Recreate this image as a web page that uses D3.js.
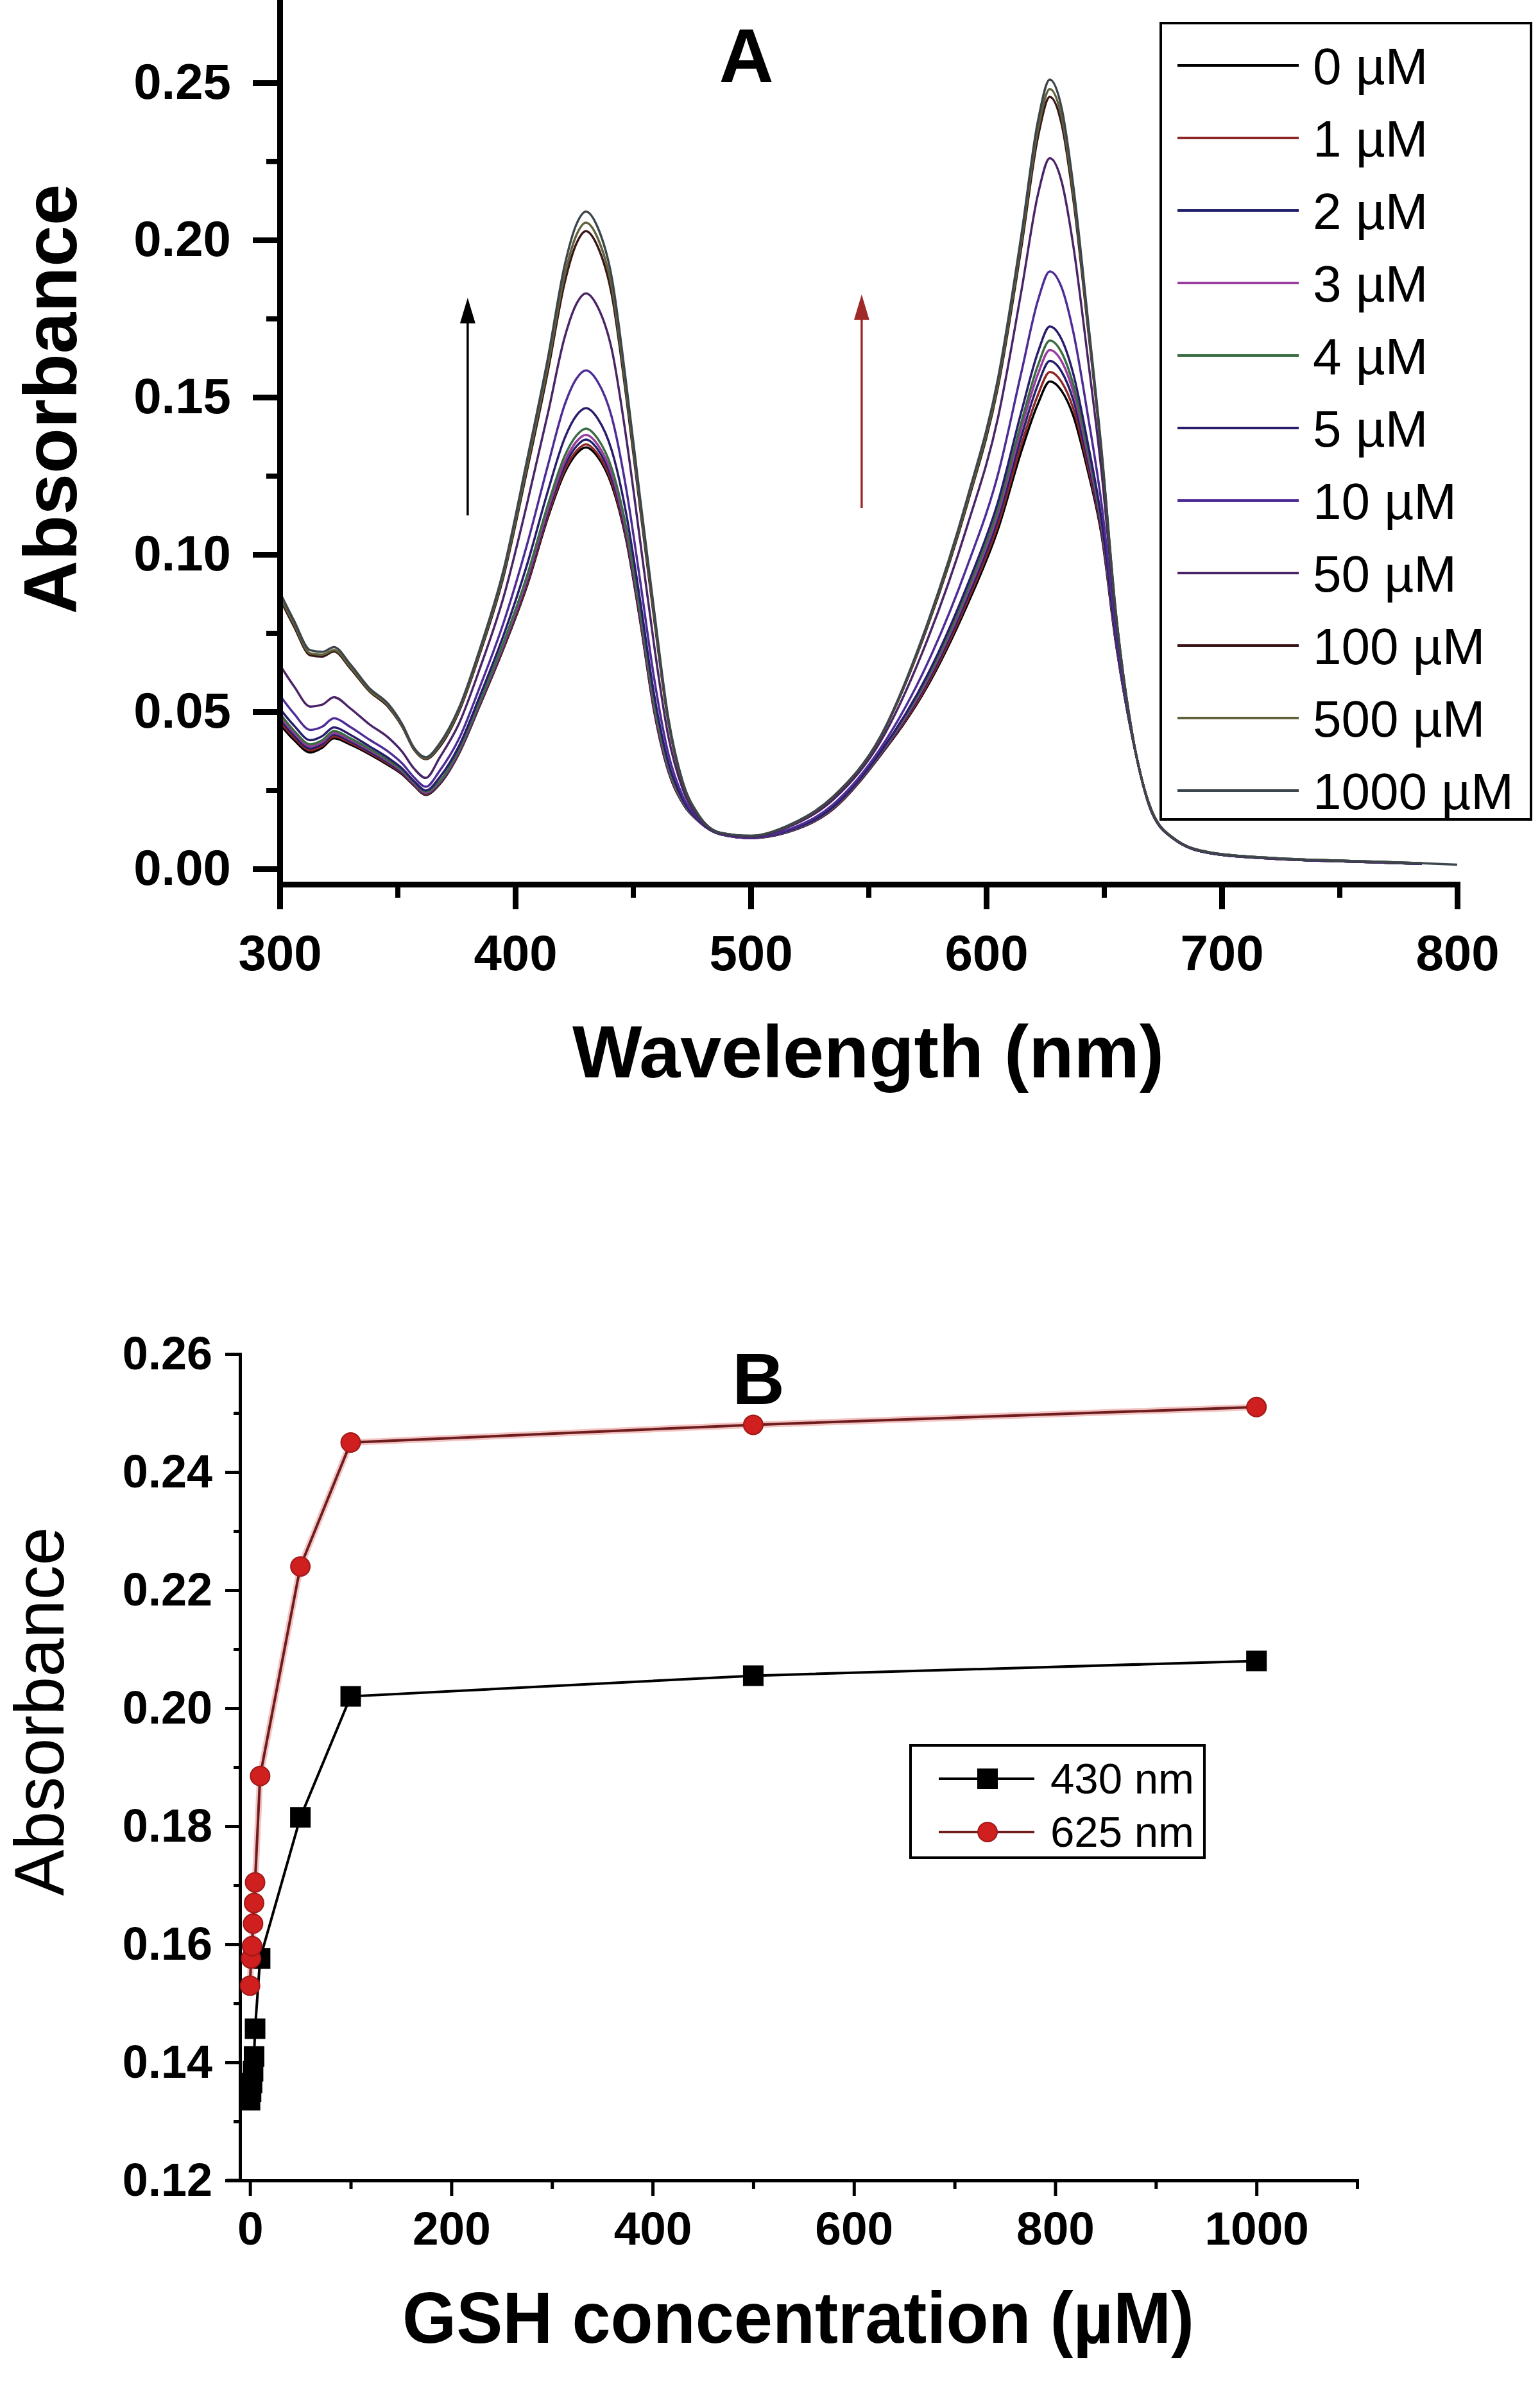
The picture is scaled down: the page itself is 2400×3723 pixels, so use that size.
<!DOCTYPE html>
<html>
<head>
<meta charset="utf-8">
<script src="https://cdn.jsdelivr.net/npm/d3@7"></script>
<style>
  body { margin: 0; background: #fff; }
  svg { display: block; }
</style>
</head>
<body>
<svg id="chart"></svg>
<script>
// ---- panel A : spectra ----
let wavelengths = [300, 306, 313, 318, 323, 330, 338, 346, 352, 357,
  362, 368, 376, 385, 395, 405, 414, 421, 426, 430,
  435, 441, 447, 453, 459, 465, 471, 478, 487, 500,
  515, 535, 555, 575, 592, 605, 615, 622, 627, 632,
  637, 643, 649, 655, 662, 670, 680, 695, 720, 760,
  785, 800]

let abs0 = [0.0460, 0.0410, 0.0370, 0.0385, 0.0415, 0.0395, 0.0365, 0.0330, 0.0300, 0.0265,
  0.0235, 0.0270, 0.0365, 0.0520, 0.0700, 0.0900, 0.1120, 0.1260, 0.1320, 0.1340,
  0.1310, 0.1220, 0.1050, 0.0790, 0.0500, 0.0310, 0.0210, 0.0150, 0.0110, 0.0098,
  0.0115, 0.0190, 0.0360, 0.0580, 0.0840, 0.1080, 0.1330, 0.1480, 0.1550, 0.1520,
  0.1440, 0.1270, 0.1060, 0.0720, 0.0420, 0.0185, 0.0093, 0.0050, 0.0033, 0.0022,
  0.0016, null]
let abs1 = [0.0468, 0.0418, 0.0377, 0.0391, 0.0421, 0.0400, 0.0369, 0.0334, 0.0303, 0.0267,
  0.0237, 0.0272, 0.0367, 0.0522, 0.0703, 0.0905, 0.1127, 0.1269, 0.1329, 0.1350,
  0.1319, 0.1229, 0.1057, 0.0795, 0.0504, 0.0312, 0.0211, 0.0150, 0.0110, 0.0098,
  0.0116, 0.0191, 0.0362, 0.0586, 0.0851, 0.1095, 0.1351, 0.1508, 0.1580, 0.1548,
  0.1463, 0.1285, 0.1068, 0.0723, 0.0420, 0.0185, 0.0093, 0.0050, 0.0033, 0.0022,
  0.0016, null]
let abs2 = [0.0477, 0.0425, 0.0383, 0.0397, 0.0427, 0.0405, 0.0373, 0.0338, 0.0306, 0.0270,
  0.0240, 0.0274, 0.0370, 0.0526, 0.0708, 0.0913, 0.1137, 0.1282, 0.1344, 0.1365,
  0.1334, 0.1242, 0.1067, 0.0803, 0.0511, 0.0316, 0.0212, 0.0151, 0.0110, 0.0098,
  0.0116, 0.0193, 0.0364, 0.0594, 0.0863, 0.1113, 0.1377, 0.1541, 0.1615, 0.1581,
  0.1490, 0.1303, 0.1078, 0.0727, 0.0421, 0.0186, 0.0093, 0.0050, 0.0033, 0.0022,
  0.0016, null]
let abs3 = [0.0485, 0.0433, 0.0390, 0.0403, 0.0432, 0.0410, 0.0378, 0.0342, 0.0310, 0.0272,
  0.0242, 0.0277, 0.0373, 0.0530, 0.0713, 0.0921, 0.1147, 0.1295, 0.1359, 0.1380,
  0.1349, 0.1255, 0.1077, 0.0811, 0.0517, 0.0319, 0.0214, 0.0151, 0.0110, 0.0098,
  0.0117, 0.0194, 0.0366, 0.0601, 0.0875, 0.1130, 0.1402, 0.1574, 0.1650, 0.1614,
  0.1516, 0.1321, 0.1088, 0.0730, 0.0422, 0.0186, 0.0094, 0.0050, 0.0033, 0.0022,
  0.0016, null]
let abs4 = [0.0494, 0.0440, 0.0396, 0.0409, 0.0438, 0.0415, 0.0382, 0.0346, 0.0313, 0.0275,
  0.0245, 0.0280, 0.0377, 0.0534, 0.0720, 0.0932, 0.1161, 0.1313, 0.1378, 0.1400,
  0.1368, 0.1273, 0.1090, 0.0821, 0.0526, 0.0324, 0.0216, 0.0152, 0.0110, 0.0099,
  0.0118, 0.0195, 0.0368, 0.0607, 0.0886, 0.1145, 0.1423, 0.1602, 0.1680, 0.1642,
  0.1539, 0.1336, 0.1096, 0.0734, 0.0422, 0.0186, 0.0094, 0.0050, 0.0033, 0.0022,
  0.0016, null]
let abs5 = [0.0510, 0.0456, 0.0409, 0.0422, 0.0450, 0.0426, 0.0390, 0.0353, 0.0319, 0.0279,
  0.0249, 0.0292, 0.0389, 0.0550, 0.0742, 0.0967, 0.1205, 0.1370, 0.1442, 0.1465,
  0.1432, 0.1330, 0.1134, 0.0855, 0.0553, 0.0338, 0.0222, 0.0153, 0.0111, 0.0099,
  0.0119, 0.0197, 0.0371, 0.0616, 0.0902, 0.1167, 0.1456, 0.1644, 0.1725, 0.1684,
  0.1573, 0.1359, 0.1109, 0.0738, 0.0423, 0.0187, 0.0094, 0.0050, 0.0033, 0.0022,
  0.0016, null]
let abs10 = [0.0552, 0.0494, 0.0442, 0.0452, 0.0479, 0.0451, 0.0411, 0.0373, 0.0335, 0.0291,
  0.0261, 0.0313, 0.0412, 0.0579, 0.0782, 0.1031, 0.1287, 0.1476, 0.1559, 0.1585,
  0.1549, 0.1436, 0.1214, 0.0918, 0.0605, 0.0366, 0.0233, 0.0157, 0.0112, 0.0100,
  0.0122, 0.0205, 0.0382, 0.0653, 0.0964, 0.1255, 0.1582, 0.1809, 0.1900, 0.1849,
  0.1706, 0.1449, 0.1159, 0.0757, 0.0424, 0.0187, 0.0094, 0.0051, 0.0034, 0.0023,
  0.0017, null]
let abs50 = [0.0649, 0.0581, 0.0516, 0.0522, 0.0546, 0.0510, 0.0460, 0.0418, 0.0372, 0.0319,
  0.0289, 0.0355, 0.0460, 0.0638, 0.0863, 0.1161, 0.1453, 0.1691, 0.1797, 0.1830,
  0.1787, 0.1651, 0.1377, 0.1045, 0.0709, 0.0421, 0.0256, 0.0163, 0.0113, 0.0103,
  0.0130, 0.0220, 0.0404, 0.0728, 0.1092, 0.1435, 0.1841, 0.2146, 0.2260, 0.2186,
  0.1980, 0.1633, 0.1260, 0.0794, 0.0428, 0.0189, 0.0095, 0.0051, 0.0034, 0.0023,
  0.0017, null]
let abs100 = [0.0859, 0.0771, 0.0679, 0.0675, 0.0691, 0.0637, 0.0565, 0.0515, 0.0452, 0.0379,
  0.0349, 0.0389, 0.0498, 0.0685, 0.0929, 0.1267, 0.1588, 0.1865, 0.1989, 0.2028,
  0.1979, 0.1825, 0.1509, 0.1148, 0.0793, 0.0466, 0.0274, 0.0168, 0.0115, 0.0104,
  0.0134, 0.0228, 0.0417, 0.0769, 0.1161, 0.1533, 0.1981, 0.2329, 0.2455, 0.2369,
  0.2128, 0.1732, 0.1315, 0.0814, 0.0429, 0.0190, 0.0095, 0.0052, 0.0035, 0.0024,
  0.0018, null]
let abs500 = [0.0867, 0.0779, 0.0685, 0.0681, 0.0696, 0.0642, 0.0569, 0.0519, 0.0455, 0.0381,
  0.0351, 0.0394, 0.0503, 0.0692, 0.0938, 0.1281, 0.1606, 0.1889, 0.2016, 0.2055,
  0.2006, 0.1849, 0.1527, 0.1162, 0.0805, 0.0472, 0.0277, 0.0169, 0.0115, 0.0105,
  0.0134, 0.0229, 0.0418, 0.0774, 0.1169, 0.1545, 0.1999, 0.2352, 0.2480, 0.2392,
  0.2147, 0.1745, 0.1322, 0.0817, 0.0430, 0.0190, 0.0095, 0.0052, 0.0035, 0.0024,
  0.0018, null]
let abs1000 = [0.0880, 0.0790, 0.0695, 0.0690, 0.0705, 0.0650, 0.0575, 0.0525, 0.0460, 0.0385,
  0.0355, 0.0400, 0.0510, 0.0700, 0.0950, 0.1300, 0.1630, 0.1920, 0.2050, 0.2090,
  0.2040, 0.1880, 0.1550, 0.1180, 0.0820, 0.0480, 0.0280, 0.0170, 0.0115, 0.0105,
  0.0135, 0.0230, 0.0420, 0.0780, 0.1180, 0.1560, 0.2020, 0.2380, 0.2510, 0.2420,
  0.2170, 0.1760, 0.1330, 0.0820, 0.0430, 0.0190, 0.0095, 0.0052, 0.0035, 0.0024,
  0.0018, 0.0013]

let concLabels = ['0 \u00b5M', '1 \u00b5M', '2 \u00b5M', '3 \u00b5M', '4 \u00b5M', '5 \u00b5M',
  '10 \u00b5M', '50 \u00b5M', '100 \u00b5M', '500 \u00b5M', '1000 \u00b5M']
let xTicksA = [300, 400, 500, 600, 700, 800]
let xMinorA = [350, 450, 550, 650, 750]
let yTicksA = [0, 0.05, 0.10, 0.15, 0.20, 0.25]
let yMinorA = [0.025, 0.075, 0.125, 0.175, 0.225]

// ---- panel B : absorbance vs GSH ----
let gshConc = [0, 1, 2, 3, 4, 5, 10, 50, 100, 500, 1000]
let abs430nm = [0.1336, 0.1350, 0.1365, 0.1385, 0.1410, 0.1457, 0.1576, 0.1815, 0.2020, 0.2055, 0.2080]
let abs625nm = [0.1530, 0.1576, 0.1597, 0.1635, 0.1670, 0.1705, 0.1885, 0.2240, 0.2450, 0.2480, 0.2510]
let seriesLabelsB = ['430 nm', '625 nm']
let xTicksB = [0, 200, 400, 600, 800, 1000]
let xMinorB = [100, 300, 500, 700, 900, 1100]
let yTicksB = [0.12, 0.14, 0.16, 0.18, 0.20, 0.22, 0.24, 0.26]
let yMinorB = [0.13, 0.15, 0.17, 0.19, 0.21, 0.23, 0.25]

let spectra = [abs0, abs1, abs2, abs3, abs4, abs5, abs10, abs50, abs100, abs500, abs1000]
let spectraColors = ['#000000', '#8e2626', '#22206a', '#9a3c9e', '#3a6e42', '#2a1c6c',
  '#4e2c96', '#4a2466', '#3a1618', '#62623a', '#3c464c']

let width = 2400
let height = 3723
let font = '"Liberation Sans", Arial, Helvetica, sans-serif'

let svg = d3.select('#chart').attr('width', width).attr('height', height)
svg.append('rect').attr('width', width).attr('height', height).attr('fill', '#fff')

let xA = d3.scaleLinear().domain([300, 800]).range([436, 2271])
let yA = d3.scaleLinear().domain([-0.0049, 0.2763]).range([1378, 0])
let xB = d3.scaleLinear().domain([-10, 1100]).range([374, 2115])
let yB = d3.scaleLinear().domain([0.12, 0.26]).range([3398, 2110])

let styleAxis = (g, sw, fs) => {
  g.select('.domain').attr('stroke', '#000').attr('stroke-width', sw).attr('stroke-linecap', 'square')
  g.selectAll('.tick line').attr('stroke', '#000').attr('stroke-width', sw)
  g.selectAll('.tick text').attr('fill', '#000').attr('font-family', font)
    .attr('font-size', fs).attr('font-weight', 'bold')
}

let drawAxesA = () => {
  let gx = svg.append('g').attr('transform', 'translate(0,1378)')
    .call(d3.axisBottom(xA).tickValues(xTicksA).tickSize(39).tickSizeOuter(0).tickPadding(40).tickFormat(d3.format('d')))
  styleAxis(gx, 9, 78)
  let gxm = svg.append('g').attr('transform', 'translate(0,1378)')
    .call(d3.axisBottom(xA).tickValues(xMinorA).tickSize(21).tickSizeOuter(0).tickFormat(''))
  gxm.select('.domain').remove()
  gxm.selectAll('.tick line').attr('stroke', '#000').attr('stroke-width', 8)

  let gy = svg.append('g').attr('transform', 'translate(436,0)')
    .call(d3.axisLeft(yA).tickValues(yTicksA).tickSize(42).tickSizeOuter(0).tickPadding(34).tickFormat(d3.format('.2f')))
  styleAxis(gy, 9, 78)
  let gym = svg.append('g').attr('transform', 'translate(436,0)')
    .call(d3.axisLeft(yA).tickValues(yMinorA).tickSize(21).tickSizeOuter(0).tickFormat(''))
  gym.select('.domain').remove()
  gym.selectAll('.tick line').attr('stroke', '#000').attr('stroke-width', 8)
}

let drawSpectra = () => {
  let line = d3.line()
    .defined(d => d[1] != null)
    .x(d => xA(d[0]))
    .y(d => yA(d[1]))
    .curve(d3.curveMonotoneX)
  svg.append('g').selectAll('path')
    .data(spectra)
    .enter()
    .append('path')
    .attr('d', s => line(wavelengths.map((w, i) => [w, s[i]])))
    .attr('fill', 'none')
    .attr('stroke', (s, i) => spectraColors[i])
    .attr('stroke-width', 3.5)
    .attr('stroke-linejoin', 'round')
}

let drawArrowsA = () => {
  // annotation arrows, in data units (nm, absorbance)
  let arrows = [
    { x: 379.8, from: 0.1124, to: 0.1816, color: '#000000' },
    { x: 547.1, from: 0.1147, to: 0.1827, color: '#a02a2a' }
  ]
  arrows.forEach(a => {
    let px = xA(a.x)
    let top = yA(a.to)
    svg.append('line')
      .attr('x1', px).attr('x2', px)
      .attr('y1', yA(a.from)).attr('y2', top + 20)
      .attr('stroke', a.color).attr('stroke-width', 3.5)
    svg.append('path')
      .attr('d', `M${px},${top} L${px - 12},${top + 40} L${px + 12},${top + 40} Z`)
      .attr('fill', a.color)
  })
}

let drawLegendA = () => {
  let legend = svg.append('g')
  legend.append('rect')
    .attr('x', 1809).attr('y', 36).attr('width', 577).attr('height', 1241)
    .attr('fill', '#fff').attr('stroke', '#000').attr('stroke-width', 4)
  concLabels.forEach((label, i) => {
    let y = 102 + 113 * i
    legend.append('line')
      .attr('x1', 1835).attr('x2', 2024).attr('y1', y).attr('y2', y)
      .attr('stroke', spectraColors[i]).attr('stroke-width', 4)
    legend.append('text')
      .attr('x', 2046).attr('y', y + 29)
      .attr('font-family', font).attr('font-size', 80)
      .text(label)
  })
}

let drawAxesB = () => {
  let gx = svg.append('g').attr('transform', 'translate(0,3398)')
    .call(d3.axisBottom(xB).tickValues(xTicksB).tickSize(24).tickSizeOuter(0).tickPadding(24).tickFormat(d3.format('d')))
  styleAxis(gx, 5, 73)
  let gxm = svg.append('g').attr('transform', 'translate(0,3398)')
    .call(d3.axisBottom(xB).tickValues(xMinorB).tickSize(13).tickSizeOuter(0).tickFormat(''))
  gxm.select('.domain').remove()
  gxm.selectAll('.tick line').attr('stroke', '#000').attr('stroke-width', 5)
  svg.append('line').attr('x1', 352).attr('x2', 374).attr('y1', 3398).attr('y2', 3398)
    .attr('stroke', '#000').attr('stroke-width', 5)

  let gy = svg.append('g').attr('transform', 'translate(374,0)')
    .call(d3.axisLeft(yB).tickValues(yTicksB).tickSize(23).tickSizeOuter(0).tickPadding(20).tickFormat(d3.format('.2f')))
  styleAxis(gy, 5, 72)
  let gym = svg.append('g').attr('transform', 'translate(374,0)')
    .call(d3.axisLeft(yB).tickValues(yMinorB).tickSize(10).tickSizeOuter(0).tickFormat(''))
  gym.select('.domain').remove()
  gym.selectAll('.tick line').attr('stroke', '#000').attr('stroke-width', 5)
}

let drawSeriesB = () => {
  let line = d3.line().x(d => xB(d[0])).y(d => yB(d[1]))
  let black = gshConc.map((c, i) => [c, abs430nm[i]])
  let red = gshConc.map((c, i) => [c, abs625nm[i]])

  svg.append('path').attr('d', line(black))
    .attr('fill', 'none').attr('stroke', '#000').attr('stroke-width', 4)
  svg.append('g').selectAll('rect')
    .data(black)
    .enter()
    .append('rect')
    .attr('x', d => xB(d[0]) - 16).attr('y', d => yB(d[1]) - 16)
    .attr('width', 32).attr('height', 32)
    .attr('fill', '#000')

  svg.append('path').attr('d', line(red))
    .attr('fill', 'none').attr('stroke', '#f3c4c4').attr('stroke-width', 10)
  svg.append('path').attr('d', line(red))
    .attr('fill', 'none').attr('stroke', '#6e1c1c').attr('stroke-width', 4)
  svg.append('g').selectAll('circle')
    .data(red)
    .enter()
    .append('circle')
    .attr('cx', d => xB(d[0])).attr('cy', d => yB(d[1]))
    .attr('r', 15)
    .attr('fill', '#cf1f1f').attr('stroke', '#a01818').attr('stroke-width', 2)
}

let drawLegendB = () => {
  let legend = svg.append('g')
  legend.append('rect')
    .attr('x', 1419).attr('y', 2720).attr('width', 458).attr('height', 175)
    .attr('fill', '#fff').attr('stroke', '#000').attr('stroke-width', 4)
  seriesLabelsB.forEach((label, i) => {
    let y = 2772 + 83 * i
    legend.append('line')
      .attr('x1', 1463).attr('x2', 1612).attr('y1', y).attr('y2', y)
      .attr('stroke', i == 0 ? '#000' : '#6e1c1c').attr('stroke-width', 4)
    if (i == 0) {
      legend.append('rect').attr('x', 1523).attr('y', y - 16).attr('width', 32).attr('height', 32).attr('fill', '#000')
    } else {
      legend.append('circle').attr('cx', 1539).attr('cy', y).attr('r', 15)
        .attr('fill', '#cf1f1f').attr('stroke', '#a01818').attr('stroke-width', 2)
    }
    legend.append('text')
      .attr('x', 1637).attr('y', y + 23)
      .attr('font-family', font).attr('font-size', 66)
      .attr('textLength', 224).attr('lengthAdjust', 'spacingAndGlyphs')
      .text(label)
  })
}

let drawLabels = () => {
  svg.append('text').text('A')
    .attr('x', 1163).attr('y', 128).attr('text-anchor', 'middle')
    .attr('font-family', font).attr('font-size', 118).attr('font-weight', 'bold')
  svg.append('text').text('Wavelength (nm)')
    .attr('x', 1353).attr('y', 1679).attr('text-anchor', 'middle')
    .attr('font-family', font).attr('font-size', 115).attr('font-weight', 'bold')
  svg.append('text').text('Absorbance')
    .attr('transform', 'translate(119,622) rotate(-90)').attr('text-anchor', 'middle')
    .attr('font-family', font).attr('font-size', 116).attr('font-weight', 'bold')

  svg.append('text').text('B')
    .attr('x', 1182).attr('y', 2188).attr('text-anchor', 'middle')
    .attr('font-family', font).attr('font-size', 113).attr('font-weight', 'bold')
  svg.append('text').text('GSH concentration (\u00b5M)')
    .attr('x', 1244).attr('y', 3651).attr('text-anchor', 'middle')
    .attr('font-family', font).attr('font-size', 114).attr('font-weight', 'bold')
    .attr('textLength', 1234).attr('lengthAdjust', 'spacingAndGlyphs')
  svg.append('text').text('Absorbance')
    .attr('transform', 'translate(99,2667) rotate(-90)').attr('text-anchor', 'middle')
    .attr('font-family', font).attr('font-size', 110)
    .attr('textLength', 575).attr('lengthAdjust', 'spacingAndGlyphs')
}

drawSpectra()
drawArrowsA()
drawAxesA()
drawLegendA()
drawAxesB()
drawSeriesB()
drawLegendB()
drawLabels()
</script>
</body>
</html>
